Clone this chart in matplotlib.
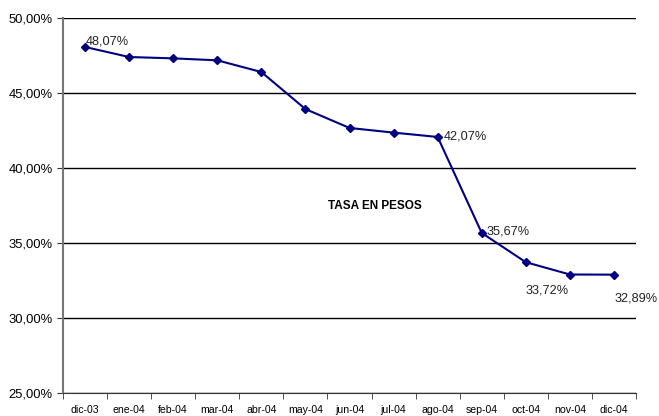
import matplotlib
matplotlib.use("Agg")
import matplotlib.pyplot as plt
from matplotlib.ticker import FuncFormatter

plt.rcParams['font.family'] = ['Liberation Sans', 'DejaVu Sans']

# datos
meses = ['dic-03', 'ene-04', 'feb-04', 'mar-04', 'abr-04', 'may-04', 'jun-04',
         'jul-04', 'ago-04', 'sep-04', 'oct-04', 'nov-04', 'dic-04']
tasa = [48.07, 47.40, 47.31, 47.18, 46.40, 43.93, 42.67,
        42.36, 42.07, 35.67, 33.72, 32.90, 32.89]

# etiquetas de datos: (indice, texto, desplazamiento en px)
etiquetas = [(0, '48,07%', (1, -1), 'left', 'bottom'),
             (8, '42,07%', (6, 0), 'left', 'center'),
             (9, '35,67%', (5, 1), 'left', 'center'),
             (11, '33,72%', (-23, -10), 'center', 'top'),
             (12, '32,89%', (1, -18), 'left', 'top')]

fig = plt.figure(figsize=(6.59, 4.16), dpi=100)
ax = fig.add_axes([0.0956, 0.0553, 0.8695, 0.9014])

x = list(range(len(meses)))
ax.plot(x, tasa, color='#000080', linewidth=1.5, marker='D', markersize=4.5,
        zorder=3)

for i, txt, off, ha, va in etiquetas:
    ax.annotate(txt, (x[i], tasa[i]), xytext=off, textcoords='offset pixels',
                ha=ha, va=va, fontsize=9.2, color='#222222')

ax.text(0.5436, 0.4987, 'TASA EN PESOS', transform=ax.transAxes, ha='center',
        va='center', fontsize=8.5, fontweight='bold')

ax.set_ylim(25, 50)
ax.set_xlim(-0.5, len(meses) - 0.5)
ax.set_yticks([25, 30, 35, 40, 45, 50])
ax.yaxis.set_major_formatter(FuncFormatter(lambda v, p: f'{v:.2f}%'.replace('.', ',')))
ax.set_xticks(x)
ax.set_xticklabels(meses, fontsize=7.6)
ax.set_xticks([i - 0.5 for i in range(len(meses) + 1)], minor=True)
ax.tick_params(axis='x', which='major', length=0, pad=9)
ax.tick_params(axis='x', which='minor', length=4, direction='out', color='#333333')
ax.tick_params(axis='y', labelsize=9.4, length=4, color='#333333')

ax.grid(axis='y', color='black', linewidth=1)
ax.set_axisbelow(True)
for s in ['top', 'right']:
    ax.spines[s].set_visible(False)
ax.spines['left'].set_color('#777777')
ax.spines['left'].set_linewidth(1.5)
ax.spines['bottom'].set_color('#333333')

fig.savefig('out.png', dpi=100)
